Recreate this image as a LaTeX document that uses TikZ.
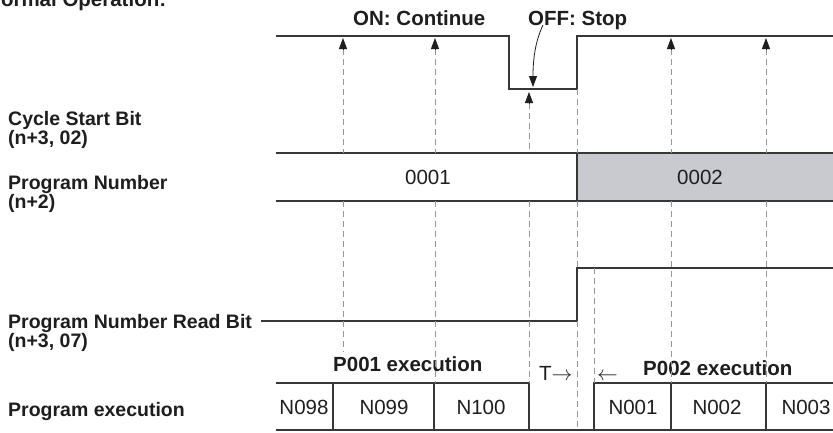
\documentclass[tikz,border=0pt]{standalone}
\usepackage{fontspec}
\setmainfont{Liberation Sans}
\usetikzlibrary{arrows.meta}
\definecolor{ink}{RGB}{30,30,30}
\definecolor{wire}{RGB}{55,55,55}
\definecolor{guidegray}{RGB}{150,150,150}
\definecolor{boxgray}{RGB}{200,202,208}
\begin{document}
\begin{tikzpicture}[x=1pt,y=-1pt,
  wave/.style={draw=wire,line width=1.3pt},
  guide/.style={draw=guidegray,line width=0.8pt,dash pattern=on 6pt off 4pt},
  tipup/.style={-{Triangle[width=8pt,length=11pt]},draw=ink,fill=ink,line width=0.8pt},
  lbl/.style={font=\fontsize{19.5}{19.5}\selectfont\bfseries,text=ink,anchor=base west,inner sep=0pt},
  cell/.style={font=\fontsize{20.5}{20.5}\selectfont,text=ink,anchor=base,inner sep=0pt},
  hdr/.style={font=\fontsize{20.5}{20.5}\selectfont\bfseries,text=ink,anchor=base west,inner sep=0pt}
]
\useasboundingbox (0,0) rectangle (833,432);
\fill[white] (0,0) rectangle (833,432);

% title (clipped at top)
\node[lbl,font=\fontsize{20.5}{20.5}\selectfont\bfseries] (title) at (-14,6) {Normal Operation:};

% left labels
\node[lbl] (csb) at (8,125) {Cycle Start Bit};
\node[lbl] (csbaddr) at (8,144) {(n+3, 02)};
\node[lbl] (pn) at (8,189) {Program Number};
\node[lbl] (pnaddr) at (8,208) {(n+2)};
\node[lbl] (rb) at (8,328) {Program Number Read Bit};
\node[lbl] (rbaddr) at (8,347) {(n+3, 07)};
\node[lbl] (pe) at (8,416) {Program execution};

% header labels
\node[hdr] (on) at (353,25) {ON: Continue};
\node[hdr] (off) at (528,25) {OFF: Stop};

% Cycle start bit waveform
\draw[wave] (276,36) -- (509,36) -- (509,89) -- (577,89) -- (577,36) -- (833,36);

% Program number
\fill[boxgray] (577,153) rectangle (833,201);
\draw[wave] (276,153) -- (833,153);
\draw[wave] (276,201) -- (833,201);
\draw[wave] (577,153) -- (577,201);
\node[cell] (p1) at (428,184) {0001};
\node[cell] (p2) at (700,184) {0002};

% Read bit waveform
\draw[wave] (261,321) -- (577,321) -- (577,268) -- (833,268);

% Program execution boxes
\draw[wave] (276,383) -- (529,383) -- (529,430);
\draw[wave] (594,430) -- (594,383) -- (833,383);
\draw[wave] (276,430) -- (833,430);
\foreach \xx in {333,434,671,766} \draw[wave] (\xx,383) -- (\xx,430);
\node[cell] (n098) at (304,414) {N098};
\node[cell] (n099) at (384,414) {N099};
\node[cell] (n100) at (481,414) {N100};
\node[cell] (n001) at (633,414) {N001};
\node[cell] (n002) at (717,414) {N002};
\node[cell] (n003) at (806,414) {N003};

\node[hdr] (p1exec) at (333,371) {P001 execution};
\node[hdr] (p2exec) at (643,375) {P002 execution};
\node[cell,anchor=base west] (tmark) at (539,380) {T$\rightarrow$};
\node[cell,anchor=base west] (lmark) at (597,380) {$\leftarrow$};

% dashed guides
\draw[guide] (343,49) -- (343,153) (343,201) -- (343,352);
\draw[guide] (435,49) -- (435,153) (435,201) -- (435,383);
\draw[guide] (529,103) -- (529,153) (529,201) -- (529,383);
\draw[guide] (577,89) -- (577,153) (577,201) -- (577,268) (577,321) -- (577,430);
\draw[guide] (594,268) -- (594,383);
\draw[guide] (671,49) -- (671,153) (671,201) -- (671,383);
\draw[guide] (766,49) -- (766,153) (766,201) -- (766,383);

% arrow heads
\foreach \xx in {343,435,671,766} \draw[tipup] (\xx,50) -- (\xx,38);
\draw[tipup] (529,104) -- (529,92);

% OFF: Stop pointer
\coordinate (offtip) at (533,87);
\draw[ink,line width=0.8pt,-{Triangle[width=8pt,length=11pt]}] (543,25) .. controls (535,42) and (533,60) .. (offtip);
\end{tikzpicture}
\end{document}
